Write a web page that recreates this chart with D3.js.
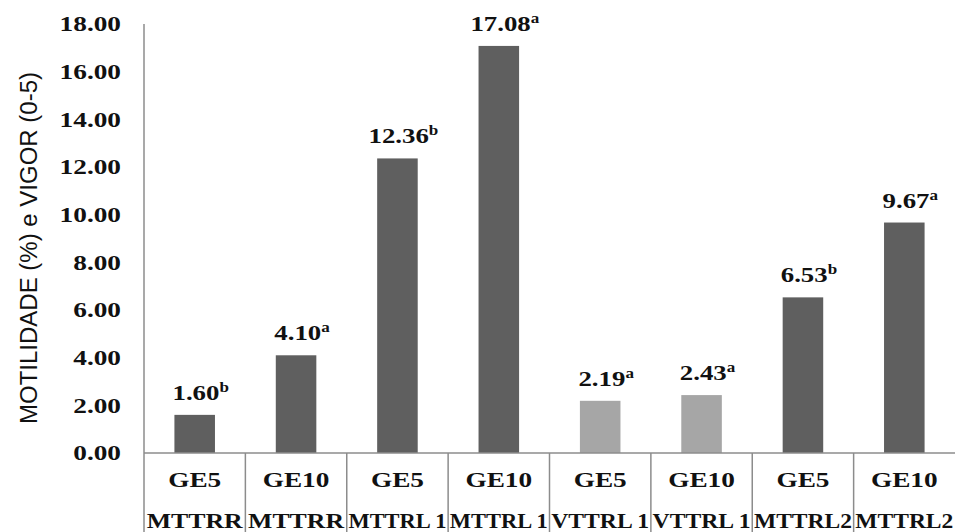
<!DOCTYPE html>
<html><head><meta charset="utf-8">
<script src="https://cdn.jsdelivr.net/npm/d3@7"></script>
<style>body{margin:0;background:#fff}svg{display:block}</style>
</head><body>
<script>
const groups = ["GE5","GE10","GE5","GE10","GE5","GE10","GE5","GE10"];
const treatments = ["MTTRR","MTTRR","MTTRL 1","MTTRL 1","VTTRL 1","VTTRL 1","MTTRL2","MTTRL2"];
const values = [1.60,4.10,12.36,17.08,2.19,2.43,6.53,9.67];
const letters = ["b","a","b","a","a","a","b","a"];
const kind = ["M","M","M","M","V","V","M","M"];
const yTicks = [0,2,4,6,8,10,12,14,16,18];

const W=955,H=532;
const svg=d3.select("body").append("svg").attr("width",W).attr("height",H);
const x0=144,x1=955,yBase=453,yTop=24;
const idx=d3.range(values.length);
const cell=d3.scaleBand().domain(idx).range([x0,x1]).padding(0);
const xb=d3.scaleBand().domain(idx).range([x0,x1]).paddingInner(0.6).paddingOuter(0.3);
const y=d3.scaleLinear().domain([0,18]).range([yBase,yTop]);
const color=d3.scaleOrdinal().domain(["M","V"]).range(["#5f5f5f","#a6a6a6"]);
const serif="'Liberation Serif', 'Times New Roman', serif";

// y tick labels
svg.append("g").selectAll("text").data(yTicks).join("text")
 .attr("transform",d=>`translate(121,${y(d)}) scale(1.3,1)`).attr("dy","0.35em")
 .attr("text-anchor","end").attr("font-family",serif).attr("font-weight","bold")
 .attr("font-size",21).attr("fill","#111").text(d=>d3.format(".2f")(d));

// y title
svg.append("text").attr("transform","translate(37,248) rotate(-90)")
 .attr("text-anchor","middle").attr("font-family","'Liberation Sans', Arial, sans-serif")
 .attr("font-size",23).attr("fill","#111")
 .attr("textLength",352).attr("lengthAdjust","spacingAndGlyphs")
 .text("MOTILIDADE (%) e VIGOR (0-5)");

// bars
svg.append("g").selectAll("rect").data(idx).join("rect")
 .attr("x",i=>xb(i)).attr("width",xb.bandwidth())
 .attr("y",i=>y(values[i])).attr("height",i=>yBase-y(values[i]))
 .attr("fill",i=>color(kind[i]));

// value labels
const lab=svg.append("g").selectAll("text").data(idx).join("text")
 .attr("transform",i=>`translate(${xb(i)+xb.bandwidth()/2+6},${y(values[i])-15}) scale(1.22,1)`)
 .attr("text-anchor","middle").attr("font-family",serif).attr("font-weight","bold")
 .attr("font-size",22).attr("fill","#111");
lab.append("tspan").text(i=>d3.format(".2f")(values[i]));
lab.append("tspan").attr("font-size",14).attr("dy",-8).text(i=>letters[i]);

// axis lines & table
const g=svg.append("g").attr("stroke","#8c8c8c").attr("stroke-width",1.5).attr("fill","none");
g.append("line").attr("x1",x0).attr("x2",x0).attr("y1",yTop).attr("y2",H);
g.append("line").attr("x1",x0).attr("x2",x1).attr("y1",yBase).attr("y2",yBase);
g.selectAll("line.v").data(idx.slice(1)).join("line").attr("class","v")
 .attr("x1",i=>cell(i)).attr("x2",i=>cell(i)).attr("y1",yBase).attr("y2",H);

// category labels
svg.append("g").selectAll("text").data(idx).join("text")
 .attr("transform",i=>`translate(${cell(i)+cell.bandwidth()/2},487) scale(1.3,1)`)
 .attr("text-anchor","middle").attr("font-family",serif).attr("font-weight","bold")
 .attr("font-size",21).attr("fill","#111")
 .text(i=>groups[i]);
svg.append("g").selectAll("text").data(idx).join("text")
 .attr("x",i=>cell(i)+cell.bandwidth()/2).attr("y",528)
 .attr("text-anchor","middle").attr("font-family",serif).attr("font-weight","bold")
 .attr("font-size",21).attr("fill","#111")
 .attr("textLength",i=>treatments[i].length===5?96:98).attr("lengthAdjust","spacingAndGlyphs")
 .text(i=>treatments[i]);
</script>
</body></html>
